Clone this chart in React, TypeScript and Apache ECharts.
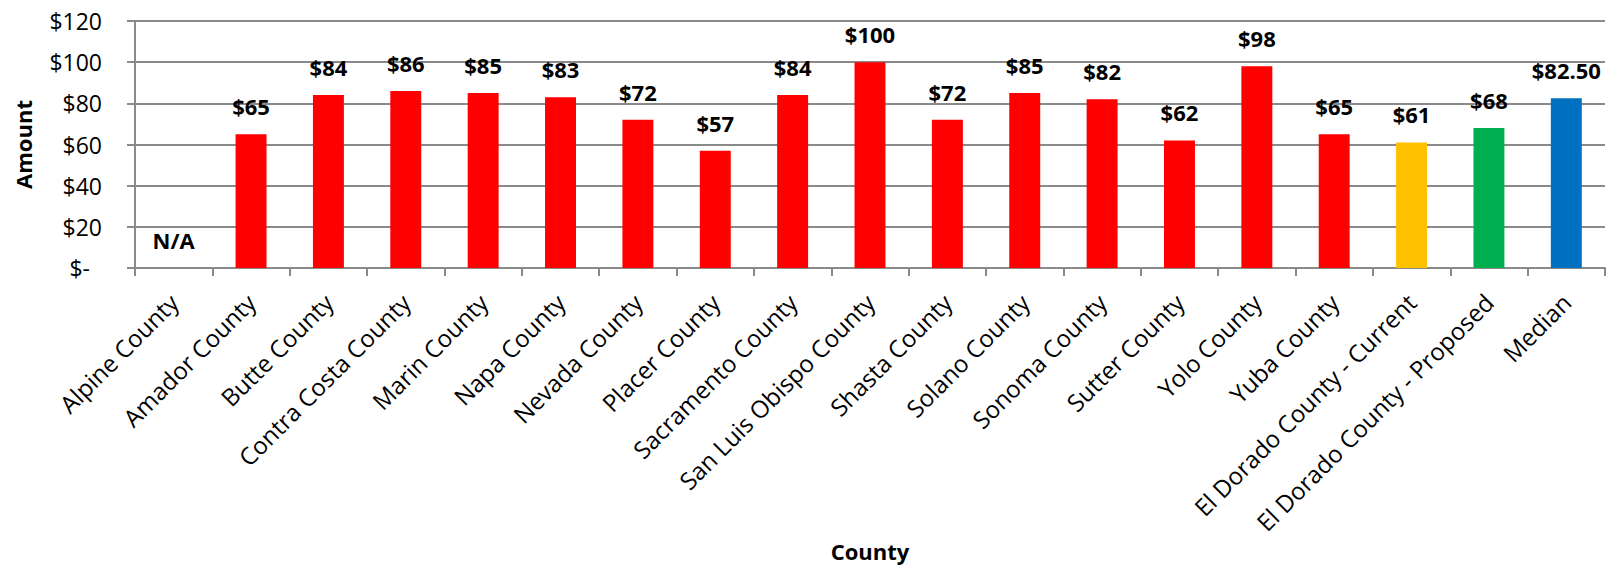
import React, { useEffect, useRef } from "react";
import * as echarts from "echarts";

const categories = [
  "Alpine County",
  "Amador County",
  "Butte County",
  "Contra Costa County",
  "Marin County",
  "Napa County",
  "Nevada County",
  "Placer County",
  "Sacramento County",
  "San Luis Obispo County",
  "Shasta County",
  "Solano County",
  "Sonoma County",
  "Sutter County",
  "Yolo County",
  "Yuba County",
  "El Dorado County - Current",
  "El Dorado County - Proposed",
  "Median",
];

const amounts: (number | null)[] = [
  null, 65, 84, 86, 85, 83, 72, 57, 84, 100, 72, 85, 82, 62, 98, 65, 61, 68, 82.5,
];

const barColors = [
  "#FF0000", "#FF0000", "#FF0000", "#FF0000", "#FF0000", "#FF0000", "#FF0000",
  "#FF0000", "#FF0000", "#FF0000", "#FF0000", "#FF0000", "#FF0000", "#FF0000",
  "#FF0000", "#FF0000", "#FFC000", "#00B050", "#0070C0",
];

const yTicks = { min: 0, max: 120, interval: 20 };

const FONT = "'Open Sans', sans-serif";

function fmtMoney(v: number | null): string {
  if (v === null) return "N/A";
  if (Number.isInteger(v)) return "$" + v;
  return "$" + v.toFixed(2);
}

export default function App() {
  const ref = useRef<HTMLDivElement>(null);
  useEffect(() => {
    document.body.style.margin = "0";
    if (!ref.current) return;
    const chart = echarts.init(ref.current, null, { renderer: "svg" });
    const gray = "#8a8a8a";
    chart.setOption({
      animation: false,
      backgroundColor: "#ffffff",
      textStyle: { fontFamily: FONT },
      grid: { left: 135, right: 9, top: 21, bottom: 300, containLabel: false },
      xAxis: {
        type: "category",
        data: categories,
        name: "County",
        nameLocation: "middle",
        nameGap: 272,
        nameMoveOverlap: false,
        nameTextStyle: { fontFamily: FONT, fontSize: 22, fontWeight: "bold", color: "#000" },
        axisLine: { lineStyle: { color: gray, width: 2 } },
        axisTick: { show: true, length: 8, lineStyle: { color: gray, width: 2 }, alignWithLabel: false },
        axisLabel: {
          interval: 0,
          rotate: 45,
          margin: 30,
          fontFamily: FONT,
          fontSize: 24,
          color: "#000",
        },
      },
      yAxis: {
        type: "value",
        min: yTicks.min,
        max: yTicks.max,
        interval: yTicks.interval,
        name: "Amount",
        nameLocation: "middle",
        nameGap: 101,
        nameMoveOverlap: false,
        nameTextStyle: { fontFamily: FONT, fontSize: 22, fontWeight: "bold", color: "#000" },
        axisLine: { show: true, lineStyle: { color: gray, width: 2 } },
        axisTick: { show: true, length: 8, lineStyle: { color: gray, width: 2 } },
        splitLine: { show: true, lineStyle: { color: gray, width: 2 } },
        axisLabel: {
          margin: 33,
          fontFamily: FONT,
          fontSize: 23,
          color: "#000",
          formatter: (v: number) => (v === 0 ? "{z|$-}" : "$" + v),
          rich: {
            z: { fontFamily: FONT, fontSize: 23, color: "#000", padding: [0, 12, 0, 0] },
          },
        },
      },
      series: [
        {
          type: "bar",
          barWidth: "40%",
          data: amounts.map((v, i) => ({
            value: v === null ? 0 : v,
            itemStyle: { color: barColors[i] },
          })),
          label: {
            show: true,
            position: "top",
            distance: 17,
            fontFamily: FONT,
            fontSize: 22,
            fontWeight: "bold",
            color: "#000",
            formatter: (p: any) => fmtMoney(amounts[p.dataIndex]),
          },
        },
      ],
    });
    return () => chart.dispose();
  }, []);
  return (
    <div
      ref={ref}
      style={{ position: "fixed", left: 0, top: 0, width: 1614, height: 568 }}
    />
  );
}
